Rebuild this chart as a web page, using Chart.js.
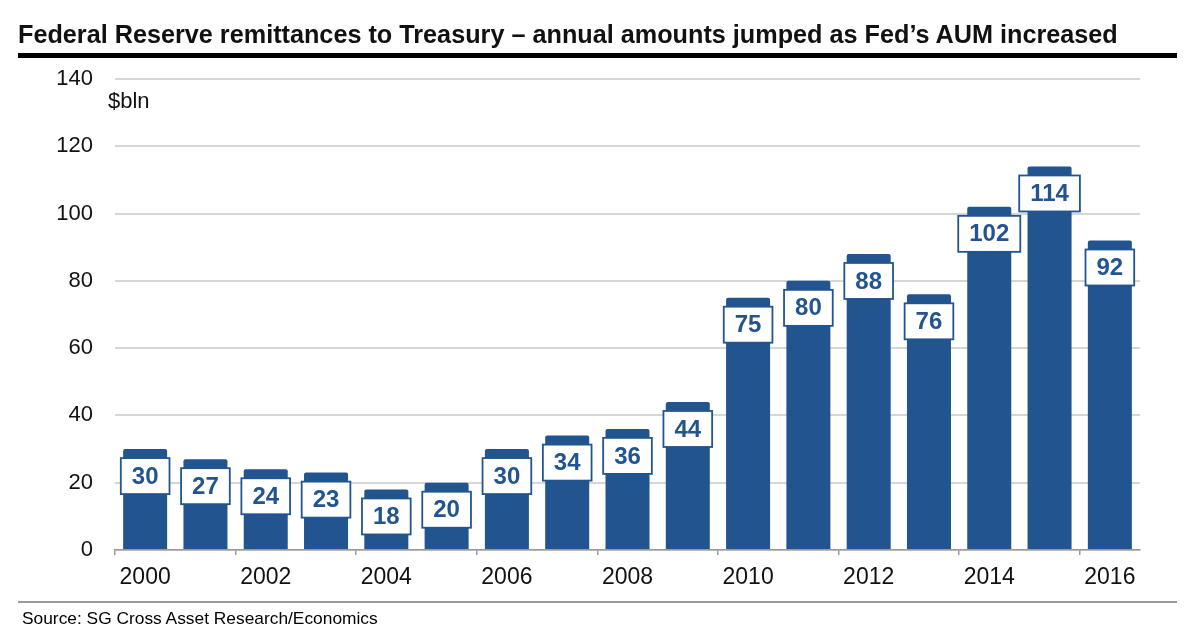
<!DOCTYPE html>
<html>
<head>
<meta charset="utf-8">
<script src="https://cdn.jsdelivr.net/npm/chart.js@4.4.1/dist/chart.umd.min.js"></script>
<style>
  html, body { margin: 0; padding: 0; background: #fff; }
  #wrap { position: relative; width: 1186px; height: 632px; overflow: hidden; font-family: "Liberation Sans", Arial, Helvetica, sans-serif; }
  #c { position: absolute; left: 0; top: 0; }
  .txt { position: absolute; white-space: nowrap; color: #111; line-height: 1; }
  #title { left: 18px; top: 22px; font-weight: bold; font-size: 23px; }
  #topline { position: absolute; left: 18px; top: 53px; width: 1159px; height: 5px; background: #000; }
  #unit { left: 108px; top: 90px; font-size: 22px; }
  #botline { position: absolute; left: 18px; top: 601px; width: 1159px; height: 2px; background: #999; }
  #source { left: 22px; top: 610px; font-size: 16px; color: #000; }
</style>
</head>
<body>
<div id="wrap">
  <canvas id="c" width="1186" height="632"></canvas>
  <div class="txt" id="title">Federal Reserve remittances to Treasury – annual amounts jumped as Fed’s AUM increased</div>
  <div id="topline"></div>
  <div class="txt" id="unit">$bln</div>
  <div id="botline"></div>
  <div class="txt" id="source">Source: SG Cross Asset Research/Economics</div>
</div>
<script>
const years = ['2000','2001','2002','2003','2004','2005','2006','2007','2008','2009','2010','2011','2012','2013','2014','2015','2016'];
const remittances = [30, 27, 24, 23, 18, 20, 30, 34, 36, 44, 75, 80, 88, 76, 102, 114, 92];
const yTicks = [0, 20, 40, 60, 80, 100, 120, 140];

const BLUE = '#22558F';

function fitWidth(id, target) {
  const el = document.getElementById(id);
  const fs = parseFloat(getComputedStyle(el).fontSize);
  const w = el.getBoundingClientRect().width;
  el.style.fontSize = (fs * target / w) + 'px';
}
fitWidth('title', 1100);
fitWidth('source', 356);

const boxLabels = {
  id: 'boxLabels',
  afterDatasetsDraw(chart) {
    const ctx = chart.ctx;
    const meta = chart.getDatasetMeta(0);
    ctx.save();
    ctx.font = 'bold 24px "Liberation Sans", Arial, sans-serif';
    ctx.textAlign = 'center';
    ctx.textBaseline = 'middle';
    meta.data.forEach((bar, i) => {
      const txt = String(remittances[i]);
      const tw = ctx.measureText(txt).width;
      const bw = bar.width;
      const w = Math.max(bw + 4, tw + 22);
      const h = 36;
      const x = bar.x - w / 2;
      const y = bar.y + 9;
      ctx.fillStyle = '#fff';
      ctx.fillRect(x, y, w, h);
      ctx.strokeStyle = BLUE;
      ctx.lineWidth = 1.8;
      ctx.strokeRect(x, y, w, h);
      ctx.fillStyle = BLUE;
      ctx.fillText(txt, bar.x, y + h / 2 + 1);
    });
    ctx.restore();
  }
};

new Chart(document.getElementById('c'), {
  type: 'bar',
  data: {
    labels: years,
    datasets: [{
      data: remittances,
      backgroundColor: BLUE,
      borderWidth: 0,
      borderRadius: { topLeft: 2, topRight: 2, bottomLeft: 0, bottomRight: 0 },
      borderSkipped: false,
      barPercentage: 0.73,
      categoryPercentage: 1.0
    }]
  },
  options: {
    responsive: false,
    animation: false,
    devicePixelRatio: 1,
    layout: { padding: { top: 79, right: 46, left: 0, bottom: 0 } },
    plugins: { legend: { display: false }, tooltip: { enabled: false }, title: { display: false } },
    scales: {
      y: {
        min: 0, max: 140,
        afterFit(axis) { axis.width = 115; },
        afterBuildTicks(axis) { axis.ticks = yTicks.map(v => ({ value: v })); },
        ticks: { stepSize: 20, padding: 22, color: '#111', font: { size: 22, family: '"Liberation Sans", Arial, sans-serif' } },
        grid: { color: '#d6d6d6', lineWidth: 2, drawTicks: false },
        border: { display: false }
      },
      x: {
        afterFit(axis) { axis.height = 82; },
        ticks: {
          autoSkip: false, maxRotation: 0, padding: 9, color: '#111',
          font: { size: 23, family: '"Liberation Sans", Arial, sans-serif' },
          callback(v, i) { return i % 2 === 0 ? years[i] : ''; }
        },
        grid: {
          offset: true, drawOnChartArea: false, tickLength: 5, lineWidth: 1.5,
          color(ctx) { return ctx.index % 2 === 0 ? '#999' : 'rgba(0,0,0,0)'; }
        },
        border: { display: true, color: '#999', width: 1.5 }
      }
    }
  },
  plugins: [boxLabels]
});
</script>
</body>
</html>
